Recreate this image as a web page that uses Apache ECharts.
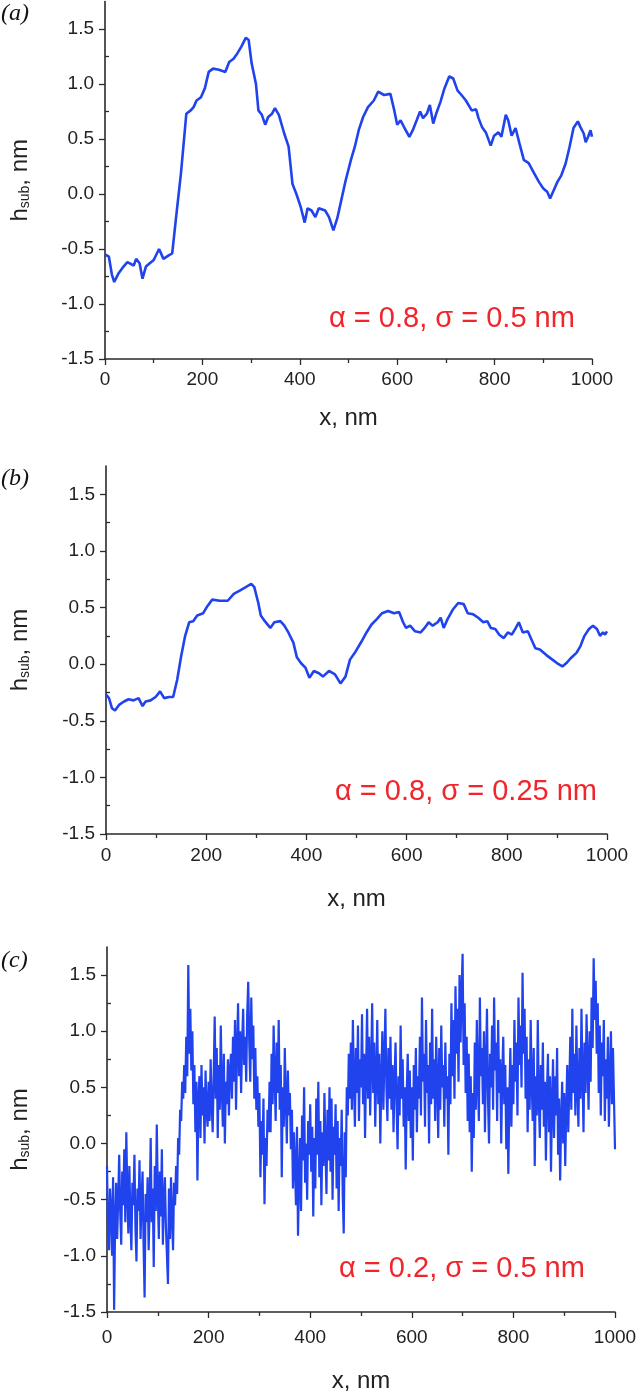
<!DOCTYPE html>
<html><head><meta charset="utf-8">
<script src="https://cdn.jsdelivr.net/npm/echarts@6/dist/echarts.min.js"></script>
<style>html,body{margin:0;padding:0;background:#fff}#c{width:640px;height:1398px}</style>
</head><body><div id="c"></div>
<script>
// ---- data ----
const xTickLabels = [0, 200, 400, 600, 800, 1000];
const yTickLabels = [-1.5, -1.0, -0.5, 0.0, 0.5, 1.0, 1.5];
const yMinorTicks = [-1.25, -0.75, -0.25, 0.25, 0.75, 1.25];
const panelLabels = ['a', 'b', 'c'];
const annotations = ['\u03b1 = 0.8, \u03c3 = 0.5 nm', '\u03b1 = 0.8, \u03c3 = 0.25 nm', '\u03b1 = 0.2, \u03c3 = 0.5 nm'];

const xA = [0,8,14,19,28,38,46,59,64,71,77,84,92,100,111,120,130,138,146,156,167,176,182,188,197,205,213,222,234,247,255,264,272,280,289,295,301,310,315,322,329,335,343,349,357,368,377,385,393,402,410,416,424,432,439,452,460,469,477,485,494,505,513,521,530,540,552,561,573,586,594,600,607,615,625,632,640,647,653,661,667,674,680,689,697,707,715,724,732,741,753,762,767,774,782,792,799,808,814,823,828,835,843,851,860,870,881,891,900,908,914,921,929,937,946,954,962,971,976,983,987,992,997,1000];
const yA = [-0.55,-0.57,-0.73,-0.80,-0.72,-0.66,-0.62,-0.65,-0.59,-0.63,-0.77,-0.66,-0.63,-0.60,-0.50,-0.59,-0.56,-0.54,-0.21,0.19,0.73,0.76,0.79,0.85,0.88,0.96,1.11,1.14,1.13,1.11,1.20,1.23,1.28,1.34,1.42,1.40,1.19,1.00,0.76,0.72,0.63,0.70,0.73,0.78,0.72,0.55,0.43,0.09,0.00,-0.12,-0.26,-0.13,-0.15,-0.21,-0.13,-0.15,-0.21,-0.33,-0.22,-0.06,0.12,0.31,0.43,0.58,0.70,0.79,0.85,0.93,0.90,0.91,0.76,0.63,0.67,0.60,0.52,0.58,0.67,0.75,0.69,0.73,0.81,0.64,0.73,0.84,0.96,1.07,1.05,0.94,0.90,0.85,0.76,0.77,0.69,0.61,0.56,0.44,0.53,0.56,0.52,0.72,0.67,0.53,0.60,0.46,0.31,0.28,0.19,0.11,0.05,0.02,-0.04,0.03,0.11,0.17,0.28,0.43,0.60,0.66,0.61,0.55,0.47,0.52,0.58,0.52];

const xB = [0,6,12,18,26,36,45,55,65,73,79,89,99,108,116,126,134,142,150,158,166,174,182,194,202,212,227,243,255,267,279,290,296,304,309,317,328,336,348,356,364,374,381,389,398,406,415,425,433,445,457,468,478,487,498,510,520,530,541,551,563,575,585,593,599,607,617,628,636,644,652,662,668,674,682,692,703,714,722,733,743,753,761,768,777,785,794,802,810,818,824,832,842,849,857,866,879,891,900,911,919,927,939,947,955,964,972,980,986,992,996,1000];
const yB = [-0.27,-0.30,-0.39,-0.41,-0.36,-0.33,-0.31,-0.32,-0.30,-0.37,-0.33,-0.32,-0.29,-0.24,-0.30,-0.29,-0.29,-0.14,0.07,0.25,0.37,0.38,0.43,0.45,0.51,0.57,0.56,0.56,0.62,0.65,0.68,0.71,0.68,0.54,0.43,0.38,0.32,0.37,0.38,0.34,0.28,0.19,0.06,0.01,-0.03,-0.12,-0.06,-0.08,-0.11,-0.06,-0.09,-0.17,-0.11,0.04,0.11,0.20,0.28,0.35,0.40,0.45,0.47,0.45,0.46,0.37,0.32,0.34,0.29,0.28,0.32,0.37,0.34,0.37,0.41,0.32,0.40,0.48,0.54,0.53,0.45,0.44,0.41,0.37,0.38,0.32,0.31,0.26,0.23,0.28,0.26,0.32,0.37,0.28,0.29,0.22,0.14,0.13,0.08,0.04,0.01,-0.02,0.01,0.05,0.10,0.16,0.25,0.31,0.34,0.31,0.25,0.28,0.26,0.29];

// panel (c): sampled every 2 nm from x = 0 (one row = 40 nm)
const cStepNm = 2;
const yC = [
-0.20,-0.75,-0.95,-0.40,-0.60,-1.00,-0.30,-1.48,-0.70,-0.35,-0.85,-0.50,-0.10,-0.60,-0.90,-0.25,-0.55,-0.05,-0.70,0.10,
-0.45,-0.80,-0.20,-0.65,-0.95,-0.35,-0.55,-0.10,-0.75,-1.05,-0.40,-0.60,-0.15,-0.85,-0.50,-0.25,-0.90,-1.37,-0.45,-0.70,
-0.30,-0.95,-0.55,0.05,-0.70,-0.40,-1.10,-0.20,-0.60,0.17,-0.45,-0.85,-0.25,-0.65,-0.05,-0.90,-0.50,-0.30,-0.75,-1.00,
-1.25,-0.40,-0.85,-0.30,-0.65,-0.95,-0.35,-0.55,-0.20,-0.45,0.05,-0.10,0.30,0.20,0.55,0.40,0.70,0.45,0.95,0.60,
1.59,0.80,1.20,0.65,1.00,0.35,0.70,0.10,0.55,-0.33,0.40,0.60,0.05,0.70,0.25,0.50,0.00,0.65,0.30,0.15,
0.55,0.20,0.75,0.35,0.10,0.60,1.13,0.40,0.85,0.05,0.70,0.30,1.05,0.50,0.15,0.80,0.00,0.55,0.35,0.75,
0.25,0.65,0.80,0.40,0.95,0.55,1.10,0.30,0.85,1.25,0.60,1.00,0.45,0.90,1.20,0.70,0.95,0.55,1.15,1.44,
0.90,0.55,1.30,0.75,1.05,0.40,0.85,0.30,0.60,0.15,0.45,-0.30,0.20,-0.10,0.40,-0.54,0.05,-0.20,0.30,0.10,
0.55,0.10,0.80,0.35,1.05,0.60,0.20,0.90,0.45,1.10,0.30,0.70,-0.30,0.50,0.15,0.85,0.40,0.00,0.65,0.25,
0.45,-0.05,0.30,-0.40,0.10,-0.20,-0.55,0.15,-0.82,-0.30,0.05,-0.60,0.25,-0.15,0.50,-0.35,0.00,-0.50,0.20,-0.10,
0.35,-0.25,0.15,-0.65,0.05,-0.40,0.40,-0.10,0.55,-0.30,0.20,-0.55,0.10,-0.20,0.45,-0.05,-0.45,0.30,-0.15,0.50,
-0.25,0.40,-0.50,0.15,-0.10,0.35,-0.40,0.20,-0.60,0.05,-0.20,0.30,-0.45,-0.80,0.10,-0.30,0.50,0.25,0.80,0.40,
0.90,0.30,1.10,0.55,0.15,0.85,0.45,1.05,0.20,0.75,0.50,1.15,0.35,0.80,0.05,0.65,1.20,0.40,0.95,0.25,
0.70,1.25,0.45,0.90,0.15,0.60,1.10,0.35,0.80,0.00,0.55,1.00,0.30,0.75,1.20,0.50,0.20,0.85,0.40,0.95,
0.30,0.70,0.10,0.55,0.90,0.35,-0.05,0.60,0.25,1.05,0.40,0.75,0.15,0.50,-0.23,0.45,0.80,0.20,0.65,0.05,
0.50,-0.15,0.70,0.30,0.85,0.10,0.60,0.40,0.95,0.25,1.30,0.55,0.80,0.15,1.10,0.45,0.70,0.00,0.90,0.35,
1.20,0.40,0.75,0.20,0.95,0.55,0.05,0.85,0.30,1.05,0.50,0.70,0.15,0.90,0.40,0.60,-0.10,0.80,0.35,1.25,
0.60,1.10,0.40,1.40,0.80,1.20,0.55,1.50,0.90,1.35,1.69,0.70,1.25,0.45,0.95,0.20,0.80,0.10,0.60,-0.25,
0.45,0.05,0.90,0.30,1.10,0.55,0.20,1.30,0.60,0.85,0.35,1.00,0.10,0.70,1.20,0.40,0.00,0.80,0.50,1.05,
0.30,1.30,0.65,0.90,0.20,1.10,0.45,0.75,0.00,0.60,0.95,0.35,0.70,-0.05,0.50,-0.27,0.40,0.85,0.15,0.70,
0.35,1.10,0.55,0.90,0.25,1.30,0.70,1.05,0.50,1.52,0.80,1.20,0.40,0.95,0.10,0.75,0.30,1.10,0.55,0.20,
0.85,-0.20,0.60,0.25,1.10,0.40,0.05,0.70,0.30,0.90,0.15,0.55,-0.15,0.45,0.80,0.10,0.60,-0.25,0.35,0.75,
0.05,0.60,0.25,0.85,-0.10,0.40,-0.33,0.20,0.55,0.00,0.45,-0.20,0.30,0.70,0.10,0.50,0.95,0.30,1.20,0.45,
0.80,0.25,1.05,0.50,0.15,0.85,0.40,1.20,0.60,0.10,0.90,0.45,1.15,0.70,0.30,1.00,0.55,1.30,0.85,1.65,
1.10,1.45,0.80,1.25,0.45,1.05,0.25,0.90,0.60,1.10,0.20,0.75,0.40,0.95,0.15,0.60,1.00,0.35,0.85,0.40,
-0.05];

// ---- layout ----
const grids = [
  {left: 101, top: 1.5, width: 491, height: 357.5, labelMargin: 11, nameGap: 47, yNameGap: 73},
  {left: 102, top: 466, width: 505, height: 368, labelMargin: 12, nameGap: 53, yNameGap: 74},
  {left: 103, top: 947, width: 512, height: 365, labelMargin: 16, nameGap: 57, yNameGap: 75}
];
const labelPos = [{x: 1, y: 2}, {x: 1, y: 467}, {x: 1, y: 949}];
const annoPos = [{x: 329, y: 319}, {x: 335, y: 792}, {x: 339, y: 1269}];

const axisColor = '#2a2a2a';
const lineColor = '#2143ee';
const font = "'Liberation Sans', Arial, sans-serif";

const seriesData = [
  xA.map((x, i) => [x, yA[i]]),
  xB.map((x, i) => [x, yB[i]]),
  yC.map((y, i) => [i * cStepNm, y])
];

const option = {
  backgroundColor: '#fff',
  animation: false,
  grid: grids.map(g => ({left: g.left, top: g.top, width: g.width, height: g.height, containLabel: false})),
  xAxis: grids.map((g, i) => ({
    gridIndex: i, type: 'value', min: 0, max: 1000, interval: 200,
    axisLine: {show: true, onZero: false, lineStyle: {color: axisColor, width: 1.6}},
    axisTick: {show: true, length: 6, lineStyle: {color: axisColor, width: 1.3}},
    minorTick: {show: true, splitNumber: 2, length: 4, lineStyle: {color: axisColor, width: 1.3}},
    splitLine: {show: false},
    axisLabel: {fontSize: 19, color: '#222', fontFamily: font, margin: g.labelMargin,
      customValues: xTickLabels, formatter: v => String(v)},
    name: 'x, nm', nameLocation: 'middle', nameGap: g.nameGap,
    nameTextStyle: {fontSize: 24, color: '#222', fontFamily: font}
  })),
  yAxis: grids.flatMap((g, i) => ([
    {
      gridIndex: i, type: 'value', min: -1.5, max: 1.75, interval: 0.5,
      axisLine: {show: true, onZero: false, lineStyle: {color: axisColor, width: 1.6}},
      axisTick: {show: true, length: 6, customValues: yTickLabels, lineStyle: {color: axisColor, width: 1.3}},
      minorTick: {show: false},
      splitLine: {show: false},
      axisLabel: {fontSize: 19, color: '#222', fontFamily: font, margin: 11,
        customValues: yTickLabels, formatter: v => v.toFixed(1)},
      name: '{h|h}{s|sub}{h|, nm}', nameLocation: 'middle', nameGap: g.yNameGap,
      nameTextStyle: {color: '#222', fontFamily: font,
        rich: {h: {fontSize: 24, color: '#222', fontFamily: font},
               s: {fontSize: 14, color: '#222', fontFamily: font, padding: [10, 0, 0, 0]}}}
    },
    {
      gridIndex: i, type: 'value', min: -1.5, max: 1.75,
      axisLine: {show: false},
      axisTick: {show: true, length: 4, customValues: yMinorTicks, lineStyle: {color: axisColor, width: 1.3}},
      axisLabel: {show: false},
      splitLine: {show: false}
    }
  ])),
  series: seriesData.map((d, i) => ({
    type: 'line', xAxisIndex: i, yAxisIndex: i * 2, data: d,
    showSymbol: false, symbol: 'none', smooth: false,
    lineStyle: {color: lineColor, width: i === 2 ? 2.2 : 2.6},
    silent: true
  })),
  graphic: [
    ...panelLabels.map((p, i) => ({
      type: 'text', left: labelPos[i].x, top: labelPos[i].y, silent: true,
      style: {text: '(' + p + ')', font: "italic 24px 'Liberation Serif', 'Times New Roman', serif", fill: '#111'}
    })),
    ...annotations.map((t, i) => ({
      type: 'text', x: annoPos[i].x, y: annoPos[i].y, silent: true,
      style: {text: t, font: "29px 'Liberation Sans', Arial, sans-serif", fill: '#f0262c', verticalAlign: 'middle', align: 'left'}
    }))
  ]
};

const chart = echarts.init(document.getElementById('c'), null, {renderer: 'canvas'});
chart.setOption(option);
</script>
</body></html>
